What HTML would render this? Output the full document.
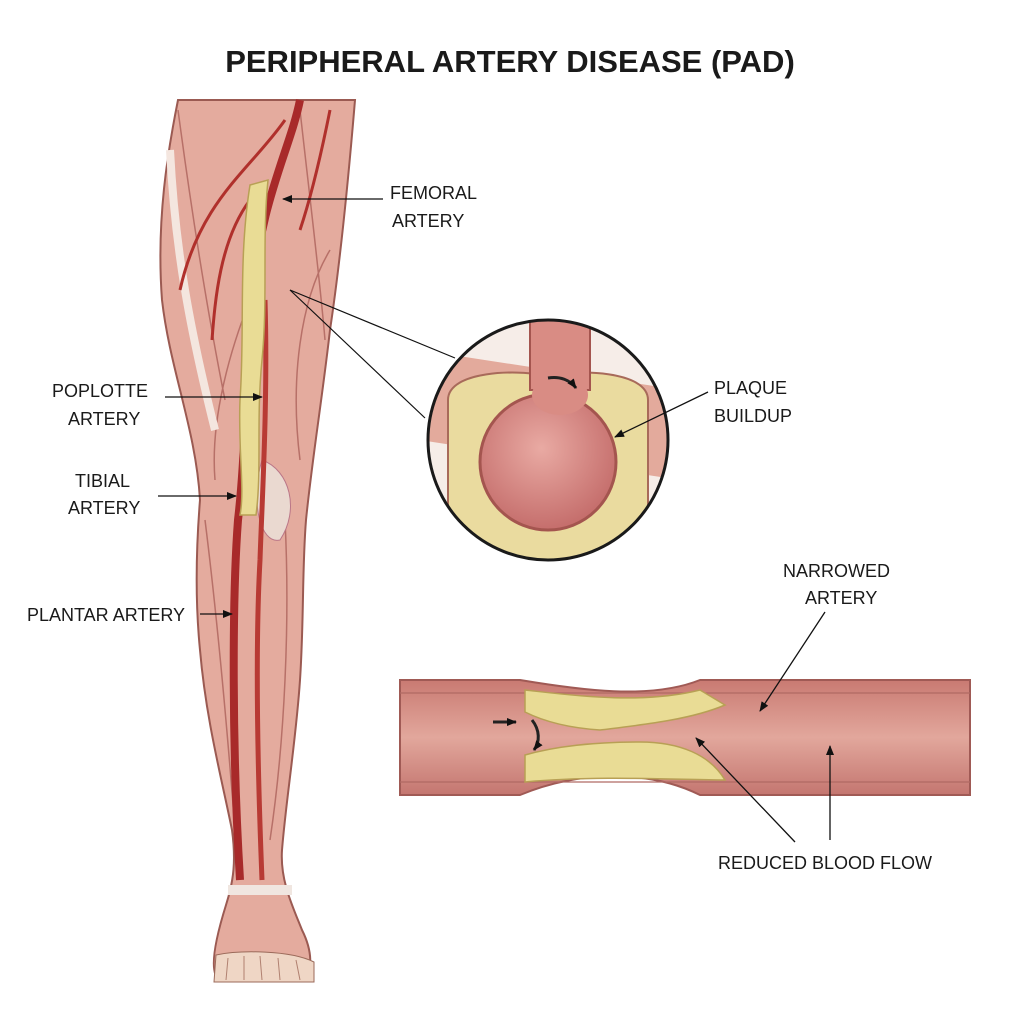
<!DOCTYPE html>
<html><head><meta charset="utf-8"><style>
html,body{margin:0;padding:0;background:#fff;}
svg{display:block}
text{font-family:"Liberation Sans",sans-serif;fill:#1a1a1a}
</style></head><body>
<svg width="1024" height="1024" viewBox="0 0 1024 1024" xmlns="http://www.w3.org/2000/svg">
<defs>
<marker id="ar" markerWidth="10" markerHeight="8" refX="9" refY="4" orient="auto" markerUnits="userSpaceOnUse"><path d="M0,0 L10,4 L0,8 z" fill="#111"/></marker>
<linearGradient id="tube" x1="0" y1="0" x2="0" y2="1"><stop offset="0" stop-color="#c97a72"/><stop offset="0.5" stop-color="#e2a79c"/><stop offset="1" stop-color="#c47670"/></linearGradient>
<radialGradient id="lum" cx="0.45" cy="0.4" r="0.6"><stop offset="0" stop-color="#e9aaa3"/><stop offset="1" stop-color="#c56e6c"/></radialGradient>
<clipPath id="cc"><circle cx="548" cy="440" r="120"/></clipPath>
</defs>
<text x="510" y="72" text-anchor="middle" font-size="31" font-weight="bold" fill="#111">PERIPHERAL ARTERY DISEASE (PAD)</text>

<!-- leg -->
<path d="M178,100 L355,100 C350,160 342,250 330,330 C322,400 312,460 306,520 C302,570 304,620 300,680 C296,740 286,800 282,850 C280,880 292,905 302,930 C312,950 314,972 302,980 L220,980 C210,975 212,950 226,905 C234,880 236,860 232,830 C222,780 206,720 200,650 C195,600 196,550 200,500 C196,430 170,370 162,300 C156,220 168,150 178,100 Z" fill="#e4ab9e" stroke="#9b5a52" stroke-width="2"/>
<path d="M178,110 C190,200 205,300 225,400 M300,110 C310,200 320,280 325,340 M205,520 C215,600 225,700 235,830 M285,520 C290,620 285,740 270,840 M250,300 C230,350 210,420 215,480 M330,250 C300,300 290,380 300,460" stroke="#b77068" stroke-width="1.5" fill="none"/>
<path d="M170,150 C175,250 190,330 215,430" stroke="#f4e6df" stroke-width="8" fill="none"/>
<path d="M262,460 C290,470 300,510 280,540 C260,545 250,500 262,460 Z" fill="#ead9d0" stroke="#b78"/>
<rect x="228" y="885" width="64" height="10" fill="#f0e6e0"/>
<path d="M216,955 C240,950 290,950 314,962 L314,982 L214,982 Z" fill="#efd6c5" stroke="#9b6a5a"/>
<path d="M228,958 L226,980 M244,956 L244,980 M260,956 L262,980 M278,958 L280,980 M296,960 L300,980" stroke="#b08070" stroke-width="1"/>
<!-- arteries -->
<path d="M300,100 C290,150 260,200 252,300 C245,400 245,460 238,520 C232,600 232,750 240,880" stroke="#a82a2a" stroke-width="8" fill="none"/>
<path d="M265,300 C268,400 262,500 260,560 C255,650 258,780 262,880" stroke="#b83a34" stroke-width="5" fill="none"/>
<path d="M285,120 C250,170 200,200 180,290 M250,200 C220,240 215,300 212,340 M330,110 C320,160 310,200 300,230" stroke="#b0302c" stroke-width="3" fill="none"/>
<path d="M250,185 C238,260 245,330 240,400 C238,450 245,490 240,515 L256,515 C262,470 256,420 262,360 C268,300 262,240 268,180 Z" fill="#e9dc95" stroke="#b8a055" stroke-width="1.5"/>

<!-- leg labels -->
<text x="390" y="199" font-size="18">FEMORAL</text><text x="392" y="227" font-size="18">ARTERY</text>
<line x1="383" y1="199" x2="283" y2="199" stroke="#111" stroke-width="1.3" marker-end="url(#ar)"/>
<text x="52" y="397" font-size="18">POPLOTTE</text><text x="68" y="425" font-size="18">ARTERY</text>
<line x1="165" y1="397" x2="262" y2="397" stroke="#111" stroke-width="1.3" marker-end="url(#ar)"/>
<text x="75" y="487" font-size="18">TIBIAL</text><text x="68" y="514" font-size="18">ARTERY</text>
<line x1="158" y1="496" x2="236" y2="496" stroke="#111" stroke-width="1.3" marker-end="url(#ar)"/>
<text x="27" y="621" font-size="18">PLANTAR ARTERY</text>
<line x1="200" y1="614" x2="232" y2="614" stroke="#111" stroke-width="1.3" marker-end="url(#ar)"/>
<line x1="290" y1="290" x2="455" y2="358" stroke="#111" stroke-width="1.2"/>
<line x1="290" y1="290" x2="425" y2="418" stroke="#111" stroke-width="1.2"/>

<!-- circle detail -->
<g clip-path="url(#cc)">
<rect x="420" y="310" width="260" height="260" fill="#f6ede8"/>
<path d="M420,350 L680,390 L680,480 L420,440 Z" fill="#e3aa9c"/>
<path d="M448,400 C448,370 520,370 540,375 L555,375 C575,370 648,370 648,400 L648,560 L448,560 Z" fill="#eadb9f" stroke="#a86a5a" stroke-width="2"/>
<circle cx="548" cy="462" r="68" fill="url(#lum)" stroke="#a4554f" stroke-width="3"/>
<path d="M530,310 L530,390 L590,390 L590,310 Z" fill="#d98c84" stroke="#a4554f" stroke-width="2"/>
<ellipse cx="560" cy="395" rx="28" ry="20" fill="#d98c84"/>
</g>
<circle cx="548" cy="440" r="120" fill="none" stroke="#1a1a1a" stroke-width="3"/>
<path d="M548,378 C560,376 570,380 576,388" stroke="#222" stroke-width="3" fill="none" marker-end="url(#ar)"/>
<text x="714" y="394" font-size="18">PLAQUE</text><text x="714" y="422" font-size="18">BUILDUP</text>
<line x1="708" y1="392" x2="615" y2="437" stroke="#111" stroke-width="1.3" marker-end="url(#ar)"/>

<!-- narrowed artery -->
<path d="M400,680 L520,680 C580,690 650,700 700,680 L970,680 L970,795 L700,795 C650,770 580,770 520,795 L400,795 Z" fill="url(#tube)" stroke="#a05a55" stroke-width="2"/>
<line x1="400" y1="693" x2="970" y2="693" stroke="#b06a63" stroke-width="1.2"/>
<line x1="400" y1="782" x2="970" y2="782" stroke="#b06a63" stroke-width="1.2"/>
<path d="M525,690 C570,695 640,705 700,690 L725,705 C690,720 640,725 600,730 C570,728 545,722 525,712 Z" fill="#e9dc95" stroke="#b8a055" stroke-width="1.5"/>
<path d="M525,755 C560,745 600,742 640,742 C680,742 710,755 725,780 C680,780 600,775 525,782 Z" fill="#e9dc95" stroke="#b8a055" stroke-width="1.5"/>
<line x1="493" y1="722" x2="516" y2="722" stroke="#222" stroke-width="3" marker-end="url(#ar)"/>
<path d="M532,720 C540,730 540,742 534,750" stroke="#222" stroke-width="3" fill="none" marker-end="url(#ar)"/>
<text x="783" y="577" font-size="18">NARROWED</text><text x="805" y="604" font-size="18">ARTERY</text>
<line x1="825" y1="612" x2="760" y2="711" stroke="#111" stroke-width="1.3" marker-end="url(#ar)"/>
<text x="718" y="869" font-size="18">REDUCED BLOOD FLOW</text>
<line x1="795" y1="842" x2="696" y2="738" stroke="#111" stroke-width="1.3" marker-end="url(#ar)"/>
<line x1="830" y1="840" x2="830" y2="746" stroke="#111" stroke-width="1.3" marker-end="url(#ar)"/>
</svg>
</body></html>
